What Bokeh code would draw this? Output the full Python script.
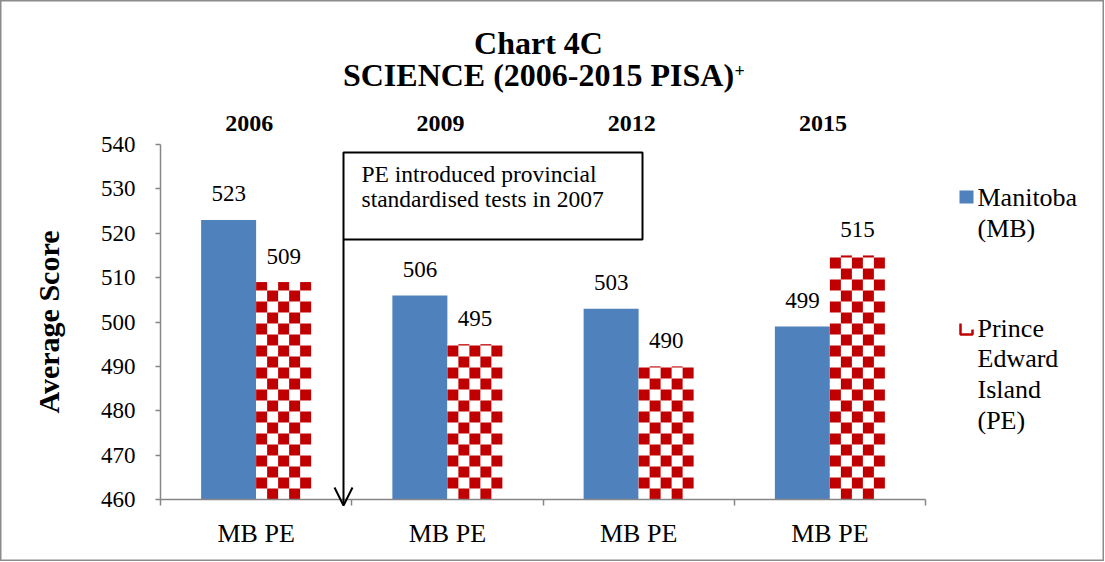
import math
import numpy as np
from bokeh.plotting import figure
from bokeh.models import (ColumnDataSource, Range1d, FixedTicker, LabelSet, Label,
                          BoxAnnotation, Arrow, OpenHead)
from bokeh.embed import file_html
from bokeh.resources import INLINE

# ---- data ----
years = ["2006", "2009", "2012", "2015"]
mb_scores = [523, 506, 503, 499]
pe_scores = [509, 495, 490, 515]
group_label = "MB PE"
y_ticks = [460, 470, 480, 490, 500, 510, 520, 530, 540]
series_names = [["Manitoba", "(MB)"], ["Prince", "Edward", "Island", "(PE)"]]
note_lines = ["PE introduced provincial", "standardised tests in 2007"]
title_lines = ["Chart 4C", "SCIENCE (2006-2015 PISA)"]

FONT = "Liberation Serif"
BLUE = "#4F81BD"
RED = "#C00000"
AXIS = "#868686"

W, H = 1104, 561
# plot-area geometry in page pixels
PL, PR, PT, PB = 160, 925, 144, 499
Y0, Y1 = 460, 540
NC = len(years)

def X(sx):  # page px -> data x
    return (sx - PL) / (PR - PL) * NC

def Y(sy):  # page px -> data y
    return Y1 - (sy - PT) / (PB - PT) * (Y1 - Y0)

px_x = NC / (PR - PL)          # data x per pixel
px_y = (Y1 - Y0) / (PB - PT)   # data y per pixel

p = figure(width=W, height=H, output_backend="svg", toolbar_location=None,
           x_range=Range1d(X(0), X(W)), y_range=Range1d(Y(H), Y(0)),
           min_border=0, background_fill_color="white", border_fill_color="white")
p.outline_line_color = "#8c8c8c"
p.outline_line_width = 2
p.grid.visible = False

centers = np.arange(NC) + 0.5
bw = 55 * px_x
mb_x = centers - bw / 2
pe_x = centers + bw / 2

src = ColumnDataSource(dict(mb_x=mb_x, pe_x=pe_x, mb=mb_scores, pe=pe_scores,
                            mb_t=[str(v) for v in mb_scores],
                            pe_t=[str(v) for v in pe_scores],
                            cx=centers, yr=years))

p.vbar(x="mb_x", top="mb", bottom=Y0, width=bw, source=src,
       fill_color=BLUE, line_color=None)
p.vbar(x="pe_x", top="pe", bottom=Y0, width=bw, source=src,
       fill_color="white", line_color=None)

# checker pattern cells for the PE bars
cell_x, cell_y = 11 * px_x, 11 * px_y
ql, qr, qb, qt = [], [], [], []
for xc, v in zip(pe_x, pe_scores):
    left0, right0 = xc - bw / 2, xc + bw / 2
    nrows = math.ceil((v - Y0) / cell_y)
    ncols = math.ceil(bw / cell_x - 1e-6)
    for r in range(nrows):
        for c in range(ncols):
            if (r + c) % 2 == 1:
                l = left0 + c * cell_x
                b = Y0 + r * cell_y
                ql.append(l); qr.append(min(l + cell_x, right0))
                qb.append(b); qt.append(min(b + cell_y, v))
p.quad(left=ql, right=qr, bottom=qb, top=qt, fill_color=RED, line_color=None)

lbl_kw = dict(text_font=FONT, text_font_size="23px", text_color="black",
              text_align="center", text_baseline="middle", y_offset=26, source=src)
p.add_layout(LabelSet(x="mb_x", y="mb", text="mb_t", **lbl_kw))
p.add_layout(LabelSet(x="pe_x", y="pe", text="pe_t", **lbl_kw))

# year labels above groups
p.add_layout(LabelSet(x="cx", y=Y(123), text="yr", source=src, x_offset=-7,
                      text_font=FONT, text_font_size="24px", text_font_style="bold",
                      text_color="black", text_align="center", text_baseline="middle"))

# axes (drawn at fixed data locations inside the full-size frame)
ya = p.yaxis[0]
ya.fixed_location = 0
ya.bounds = (Y0, Y1)
ya.ticker = FixedTicker(ticks=y_ticks)
ya.minor_tick_line_color = None
ya.major_tick_in = 0
ya.major_tick_out = 5
ya.axis_line_color = AXIS
ya.axis_line_width = 1.5
ya.major_tick_line_color = AXIS
ya.major_tick_line_width = 1.5
ya.major_label_text_font = FONT
ya.major_label_text_font_size = "23px"
ya.major_label_text_color = "black"
ya.major_label_standoff = 20
ya.axis_label = "Average Score"
ya.axis_label_text_font = FONT
ya.axis_label_text_font_size = "30px"
ya.axis_label_text_font_style = "bold"
ya.axis_label_text_color = "black"
ya.axis_label_standoff = 33

xa = p.xaxis[0]
xa.fixed_location = Y0
xa.bounds = (0, NC)
xa.ticker = FixedTicker(ticks=list(centers), minor_ticks=list(range(NC + 1)))
xa.major_label_overrides = {float(c): group_label for c in centers}
xa.major_tick_in = 0
xa.major_tick_out = 0
xa.minor_tick_in = 0
xa.minor_tick_out = 6
xa.minor_tick_line_color = AXIS
xa.minor_tick_line_width = 1.5
xa.axis_line_color = AXIS
xa.axis_line_width = 1.5
xa.major_label_text_font = FONT
xa.major_label_text_font_size = "26px"
xa.major_label_text_color = "black"
xa.major_label_standoff = 13

# title
for txt, sy in zip(title_lines, [42.5, 74.5]):
    p.add_layout(Label(x=X(538), y=Y(sy), text=txt, text_font=FONT,
                       text_font_size="32px", text_font_style="bold", text_color="black",
                       text_align="center", text_baseline="middle"))
p.add_layout(Label(x=X(734), y=Y(70), text="+", text_font=FONT,
                   text_font_size="18px", text_font_style="bold", text_color="black",
                   text_align="left", text_baseline="middle"))

# annotation box + arrow
p.add_layout(BoxAnnotation(left=X(343), right=X(642), top=Y(152), bottom=Y(239),
                           fill_color="white", fill_alpha=1.0,
                           line_color="black", line_width=2, line_alpha=1.0))
for txt, sy in zip(note_lines, [173, 198]):
    p.add_layout(Label(x=X(361), y=Y(sy), text=txt, text_font=FONT,
                       text_font_size="23.5px", text_color="black",
                       text_align="left", text_baseline="middle"))
p.add_layout(Arrow(x_start=X(343), y_start=Y(239), x_end=X(343), y_end=Y(505),
                   line_color="black", line_width=2,
                   end=OpenHead(size=18, line_color="black", line_width=2)))

# legend
p.add_layout(BoxAnnotation(left=X(959), right=X(973), top=Y(190), bottom=Y(203),
                           fill_color=BLUE, fill_alpha=1.0, line_color=None))
p.line(x=[X(960), X(960), X(972), X(972)], y=[Y(323), Y(334), Y(334), Y(329)],
       line_color=RED, line_width=2.5)
legend_rows = [[197, 227.5], [327.5, 358, 389, 420]]
for lines, rows in zip(series_names, legend_rows):
    for t, sy in zip(lines, rows):
        p.add_layout(Label(x=X(977), y=Y(sy), text=t, text_font=FONT,
                           text_font_size="26px", text_color="black",
                           text_align="left", text_baseline="middle"))

open("out.html", "w").write(file_html(p, INLINE))
